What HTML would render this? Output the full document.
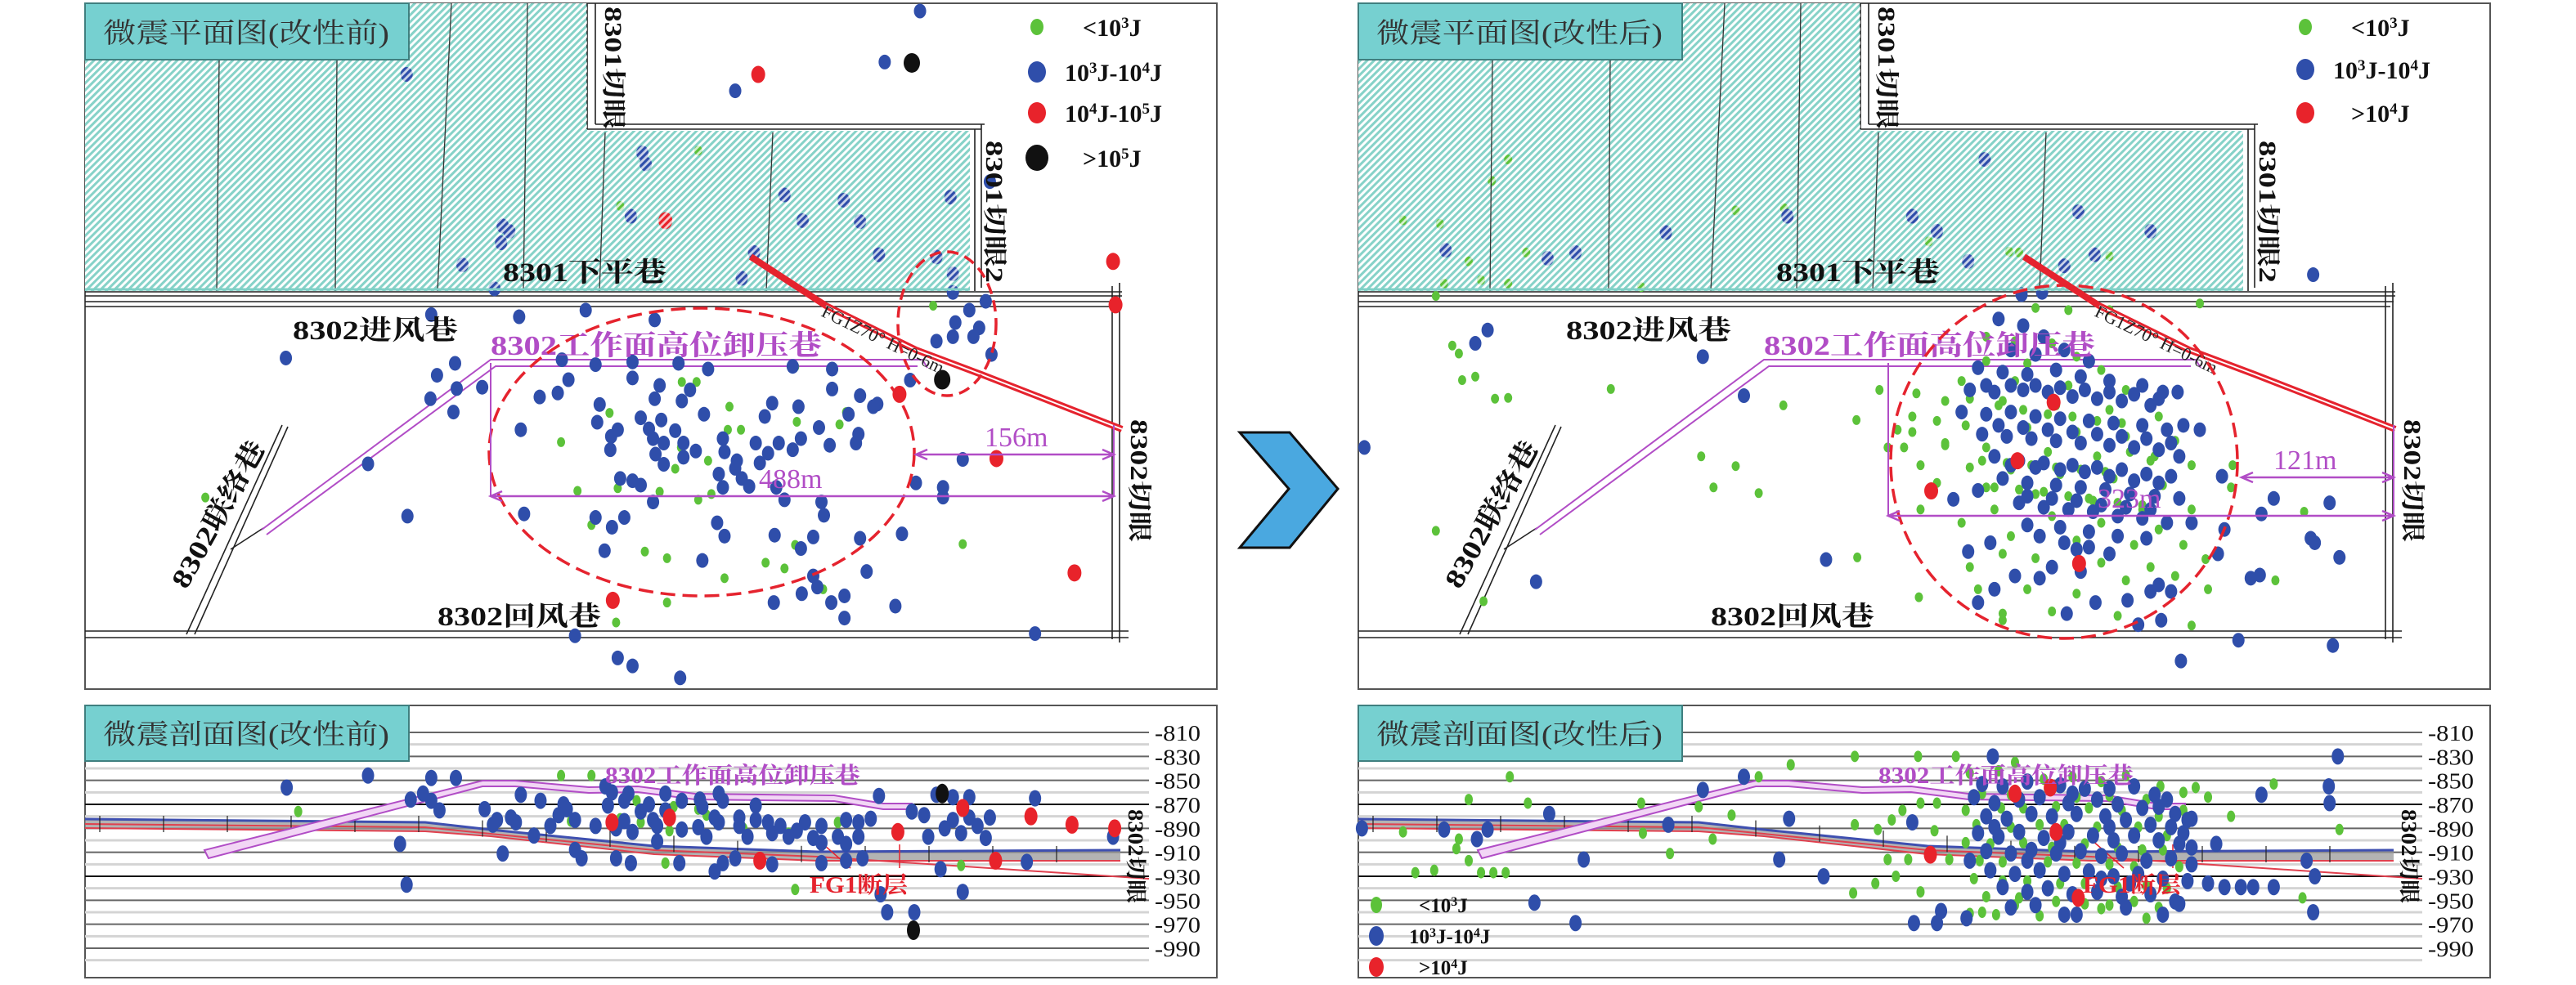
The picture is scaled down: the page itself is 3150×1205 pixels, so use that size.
<!DOCTYPE html>
<html><head><meta charset="utf-8"><style>
html,body{margin:0;padding:0;background:#fff;}
svg{display:block;}
text{font-family:"Liberation Serif","Noto Serif CJK SC",serif;}
</style></head><body>
<svg id="fig" width="3150" height="1205" viewBox="0 0 3150 1205" xmlns="http://www.w3.org/2000/svg">
<defs>
<pattern id="hatch" width="6" height="6" patternUnits="userSpaceOnUse" patternTransform="rotate(45)"><rect width="6" height="6" fill="#fff"/><rect width="3.2" height="6" fill="#86d2c8"/></pattern>
<pattern id="hatchw" width="6" height="6" patternUnits="userSpaceOnUse" patternTransform="rotate(45)"><rect x="3.2" width="2.8" height="6" fill="#fff" fill-opacity="0.75"/></pattern>
</defs>
</svg>
<script>
// ---------------- data (plan view: survey x, survey y units) ----------------
const planBeforeBlueX=[1120,1077,895,495,782,786,955,1027,1157,768,612,620,610,563,977,1047,1070,903,918,1140,1160,1205,602,1160,1200,1180,1163,1192,1185,1160,1140,1207,1108,713,632,525,797,684,725,770,826,862,965,1013,348,554,532,692,770,803,840,657,679,587,556,552,524,1013,1047,1068,1063,797,830,730,780,805,857,940,972,931,1033,727,752,790,822,997,634,744,743,795,808,832,847,880,920,948,975,965,1010,1045,1042,935,882,798,808,832,897,895,925,755,770,780,875,903,880,912,945,955,1000,1115,1148,1148,795,496,448,638,725,760,745,1003,873,882,943,990,975,1047,1098,736,855,1055,990,995,976,1028,1012,942,1090,1028,1172,1260,700,752,770,828];
const planBeforeBlueY=[25,140,205,168,345,370,440,452,445,488,510,522,548,598,498,500,575,628,570,580,618,410,652,660,680,700,728,740,760,760,770,800,858,700,715,710,722,812,823,817,820,833,827,833,808,820,847,857,853,870,880,896,887,874,877,930,900,878,893,912,918,900,905,913,943,948,935,910,918,940,935,953,970,968,972,965,970,985,1015,990,1000,1000,1018,990,1000,1000,990,1015,1005,980,1000,1023,1020,1025,1048,1032,1040,1057,1045,1080,1085,1095,1070,1080,1100,1098,1100,1128,1133,1090,1100,1122,1133,1165,1047,1160,1168,1168,1190,1163,1180,1210,1208,1212,1238,1215,1205,1243,1265,1290,1300,1325,1340,1345,1360,1360,1368,1395,1037,1430,1435,1485,1503,1530];
const planBeforeGreenX=[850,755,888,830,848,742,886,902,1022,1030,970,683,829,822,862,752,803,850,866,703,720,812,785,968,932,955,882,1002,812,750,1172,250,1136,968];
const planBeforeGreenY=[340,465,918,862,862,932,970,970,958,930,952,998,1010,1058,1040,1102,1110,1128,1115,1108,1185,1260,1245,1230,1270,1283,1305,1330,1360,1405,1228,1123,690,828];
const planBeforeRedX=[923,810,1355,1358,1095,1213,1308,746];
const planBeforeRedY=[168,498,590,688,890,1035,1293,1355];
const planBeforeBlackX=[1110,1147];
const planBeforeBlackY=[142,857];

const planAfterBlueX=[1248,243,228,505,93,555,302,655,1183,1172,1245,1250,1280,1268,1200,1185,1157,1272,1087,192,316,350,460,608,760,790,848,962,1050,982,945,828,918,893,1083,1065,1090,1110,1137,1140,1132,1060,1050,1075,1022,983,948,840,828,860,1035,1063,810,840,
865,895,920,880,910,945,975,840,870,900,935,965,1000,1040,830,860,895,925,955,985,1015,1050,820,850,880,910,940,975,1005,1040,1070,845,875,905,935,965,1000,1030,1060,1085,860,890,920,955,985,1015,1045,1075,870,900,935,965,995,1025,1055,1085,890,920,950,980,1010,1040,1070,900,940,975,1010,1045,960,1000,930,885,915,965,855,1100,
850,880,910,940,970,1000,1030,1060,865,895,925,955,985,1015,1045,1075,880,910,940,970,1000,1030,1060,900,930,960,990,1020,1050,915,945,975];
const planAfterBlueY=[620,745,775,805,1010,893,1313,1263,1298,1305,1215,1225,1258,1135,1125,1160,1445,1457,1492,565,583,570,525,488,488,522,360,478,522,575,600,590,660,665,885,885,960,970,1075,1195,1250,1320,1335,1335,1355,1360,1385,1360,1245,1330,1410,1400,1127,1107,
720,735,760,790,800,790,815,830,840,845,835,850,860,870,880,885,880,885,895,900,905,915,930,935,930,940,945,950,955,960,970,980,985,990,995,1000,1005,1010,1015,1030,1030,1040,1045,1050,1055,1060,1070,1075,1080,1090,1095,1100,1105,1115,1120,1125,1135,1145,1150,1155,1165,1170,1180,1185,1190,1200,1210,1215,1240,1250,1280,1300,1305,1290,1225,1180,
870,870,870,875,880,885,890,900,960,965,970,975,980,985,990,1000,1050,1055,1060,1065,1075,1085,1090,1120,1125,1130,1140,1145,1150,1210,1225,1235];
const planAfterGreenX=[200,208,212,228,252,268,393,603,692,720,765,742,760,730,545,503,518,573,180,693,768,238,140,185,268,248,220,235,190,268,290,430,545,604,780,878,890,1000,1110,1117,1100,180,1202,1237,1150,1148,800,770,790,870,
850,885,930,960,900,850,990,820,950,885,1020,800,870,935,1000,1060,790,825,900,960,1020,1080,800,850,925,985,1050,1100,830,880,940,1005,1065,850,910,975,1040,1100,860,930,990,1060,880,960,1030,1090,870,910,990,1050,830,900,960,1020,1080,760,750,770,820,840,930,1010,870,1120,950,910,1000,
830,865,895,925,955,985,1015,845,875,905,935,965,995,1025,1055,860,890,920,950,980,1010,1040];
const planAfterGreenY=[780,798,858,850,900,898,878,915,948,880,888,970,975,1010,1052,1030,1100,1113,1198,1258,1348,1357,497,505,360,408,590,632,640,640,570,648,475,470,545,568,570,578,685,1262,1412,668,1310,1155,1050,1100,1000,1050,1090,1400,
760,770,775,805,820,815,835,860,870,860,880,905,905,915,925,940,950,960,965,975,985,995,1005,1010,1020,1030,1040,1050,1055,1060,1070,1080,1095,1100,1115,1125,1140,1150,1150,1165,1180,1195,1210,1220,1230,1230,1250,1260,1270,1280,1280,1330,1340,1310,1300,940,1010,1150,1180,1330,1380,1390,1385,1330,700,695,700,
900,915,925,935,940,950,955,1040,1045,1050,1055,1060,1065,1020,1030,1100,1105,1110,1120,1130,1135,1150];
const planAfterRedX=[932,888,783,963];
const planAfterRedY=[908,1040,1108,1272];

// ---------------- data (section view: survey x, elevation m) ----------------
const elevTicks=[-810,-830,-850,-870,-890,-910,-930,-950,-970,-990];
const secBeforeBlueX=[448,525,555,349,515,500,525,535,590,634,658,686,690,605,622,628,600,487,612,495,700,708,750,768,737,745,765,760,740,790,810,810,830,852,875,880,855,870,900,920,780,795,760,725,750,770,800,830,850,875,900,920,935,950,970,980,1000,1030,1045,1060,960,990,1000,1020,1030,1070,1110,1125,1140,1160,1180,1160,1180,1205,1150,1170,1190,1130,1200,1260,1355,1045,1250,1145,1050,895,880,870,940,1000,1030,1072,1080,1113,1172,827,940,910,650,670,700,680,860,800];
const secBeforeBlueE=[-846,-848,-848,-856,-861,-866,-867,-875,-874,-862,-867,-870,-874,-883,-881,-885,-887,-903,-911,-937,-908,-915,-915,-919,-855,-860,-861,-867,-871,-870,-861,-875,-867,-866,-861,-867,-872,-881,-881,-871,-876,-883,-884,-888,-890,-893,-888,-891,-889,-885,-888,-883,-885,-888,-892,-885,-888,-883,-885,-882,-897,-898,-902,-897,-903,-863,-876,-879,-862,-864,-864,-883,-881,-881,-890,-894,-888,-897,-898,-865,-897,-897,-918,-924,-915,-915,-919,-926,-920,-919,-917,-945,-960,-960,-943,-919,-894,-897,-896,-888,-883,-879,-897,-901];
const secBeforeGreenX=[363,683,720,775,820,850,695,755,815,905,960,1020,810,968,1170,860,780];
const secBeforeGreenE=[-876,-846,-846,-867,-872,-874,-884,-882,-892,-890,-894,-885,-919,-941,-921,-879,-885];
const secBeforeRedX=[815,745,1093,1172,1255,1305,1357,925,1212];
const secBeforeRedE=[-881,-885,-893,-873,-880,-887,-890,-917,-917];
const secBeforeBlackX=[1147,1112];
const secBeforeBlackE=[-861,-975];

const secAfterBlueX=[1278,555,505,318,243,230,463,610,360,598,652,300,350,762,790,795,826,1267,1268,1185,1250,1248,1240,1130,1100,1160,1175,1200,1140,90,190,760,
858,845,870,900,940,970,1000,1030,1055,1070,835,860,890,915,950,985,1010,1040,1080,1095,850,875,905,930,960,995,1020,1050,1075,1090,840,865,890,920,950,980,1005,1030,1060,1085,850,880,905,935,965,990,1015,1045,1075,1100,855,885,915,945,975,1005,1035,1065,1095,1120,870,900,925,955,985,1015,1050,1080,880,910,945,960,1020,1065,1085,860,1000,940,1060,900,1025,830,955,990,1100];
const secAfterBlueE=[-830,-847,-858,-878,-891,-899,-887,-882,-916,-916,-930,-952,-969,-969,-969,-959,-965,-855,-869,-862,-930,-960,-917,-903,-882,-939,-939,-939,-939,-890,-891,-885,
-830,-853,-855,-851,-854,-857,-857,-855,-862,-866,-864,-869,-866,-864,-869,-866,-870,-873,-878,-883,-880,-882,-878,-880,-878,-880,-883,-887,-889,-894,-894,-897,-893,-898,-893,-896,-900,-896,-900,-903,-909,-911,-908,-911,-909,-913,-911,-917,-915,-920,-925,-928,-925,-928,-926,-930,-928,-932,-934,-936,-939,-943,-940,-945,-943,-947,-945,-951,-956,-954,-962,-962,-956,-962,-953,-889,-889,-902,-872,-917,-936,-917,-861,-932,-906];
const secAfterGreenX=[270,220,292,430,500,540,517,465,432,208,205,220,155,178,235,250,265,140,690,767,813,612,573,690,718,735,748,787,730,755,740,715,688,770,805,770,790,1280,1200,1148,1235,1120,1090,1105,1062,830,845,862,885,990,
830,865,885,920,955,990,1020,845,880,925,960,1000,1045,825,868,895,935,975,1015,1060,1090,838,880,915,945,985,1035,1070,825,855,895,930,970,1010,1040,1065,842,870,925,960,1000,1030,1085,835,870,900,940,970,1010,1045,1070,850,890,935,970,1000,1030,1060,915,1045];
const secAfterGreenE=[-847,-866,-869,-869,-872,-879,-899,-911,-894,-899,-907,-917,-927,-925,-927,-927,-927,-893,-830,-830,-830,-837,-847,-887,-891,-883,-875,-892,-916,-916,-930,-936,-944,-943,-916,-869,-869,-891,-853,-880,-948,-864,-860,-856,-855,-961,-960,-962,-954,-957,
-844,-842,-835,-849,-847,-851,-846,-861,-862,-857,-864,-863,-866,-875,-873,-873,-872,-873,-875,-880,-875,-887,-889,-887,-887,-889,-889,-896,-902,-903,-902,-906,-903,-906,-908,-908,-917,-918,-918,-919,-920,-922,-922,-932,-934,-934,-936,-936,-939,-938,-940,-947,-948,-951,-953,-954,-951,-956,-963,-965];
const secAfterRedX=[885,928,935,962,782];
const secAfterRedE=[-861,-856,-893,-948,-912];

// ---------------- helpers ----------------
const NS='http://www.w3.org/2000/svg';
const svg=document.getElementById('fig');
function el(tag,attrs,parent){const e=document.createElementNS(NS,tag);for(const k in attrs)e.setAttribute(k,attrs[k]);(parent||svg).appendChild(e);return e;}
function txt(str,attrs,parent){const e=el('text',attrs,parent);e.textContent=str;return e;}
const COL={blue:'#2f4eaa',green:'#5cc23a',red:'#e8232b',black:'#111111',purple:'#b14dc6'};

// axis functions
const planY=v=>v/1.845;
const planXL=v=>v*1.0045;
const planXR=v=>1575+v*1.0045;
const secXL=v=>v*1.0045;
const secXR=v=>1575+v*1.0045;
const secY=e=>896+(-810-e)*1.4667;

function dots(xs,ys,fx,fy,color,rx,ry,name,parent){
  for(let i=0;i<xs.length;i++){
    const c=el('ellipse',{cx:fx(xs[i]),cy:fy(ys[i]),rx:rx,ry:ry,fill:color},parent);
    
    
  }
}

// ---------------- plan static map (below events) ----------------
function planStatic(dx,variant){
  const g=el('g',{transform:'translate('+dx+',0)'});
  
  
  const frame=el('rect',{x:104,y:4,width:1384,height:839,fill:'#fff',stroke:'#555','stroke-width':2},g);
  
  
  const h=el('polygon',{points:'104,4 718,4 718,160 1186,160 1186,356 104,356',fill:'url(#hatch)'},g);
  
  
  const walls=[
    'M718,4 L718,158','M728,4 L728,152','M718,158 L1200,158','M728,152 L1204,152',
    'M1192,158 L1192,356','M1200,152 L1200,352',
    'M104,357 L1372,357','M104,362 L1372,362','M104,369 L1370,369','M104,375 L1366,375',
    'M1360,350 L1360,782','M1369,346 L1369,786',
    'M104,772 L1380,772','M104,780 L1380,780',
    'M228,776 L345,520','M238,776 L352,522','M282,672 L322,646'
  ];
  walls.forEach(d=>{const e=el('path',{d:d,stroke:'#222','stroke-width':1.6,fill:'none'},g);});
  const pr=el('path',{d:'M320,648 L600,440 L1128,440 L1134,450 M326,654 L606,448 L1122,448',stroke:COL.purple,'stroke-width':2,fill:'none'},g);
  
  return g;
}

function planOverlay(dx){
  const o=el('polygon',{points:'104,73 718,73 718,160 1186,160 1186,356 104,356',fill:'url(#hatchw)',transform:'translate('+dx+',0)'});
  
  const o2=el('polygon',{points:'500,4 718,4 718,73 500,73',fill:'url(#hatchw)',transform:'translate('+dx+',0)'});
  
}

// ---------------- plan top layer (above events) ----------------
function planTop(dx,title,variant){
  const g=el('g',{transform:'translate('+dx+',0)'});
  
  
  const lines=[[268,73,265,356],[412,73,410,356],[552,4,535,356],[645,4,640,356],[740,162,733,356],[945,162,937,356]];
  lines.forEach(l=>{const e=el('line',{x1:l[0],y1:l[1],x2:l[2],y2:l[3],stroke:'#333','stroke-width':1.3},g);});
  const tl=el('line',{x1:104,y1:354,x2:1186,y2:354,stroke:'#7fd0c6','stroke-width':3},g);
  
  const fp='M918,314 L1010,374 L1120,428 L1200,458 L1290,493 L1372,525';
  const f1=el('path',{d:fp,stroke:'#e5232e','stroke-width':8,fill:'none'},g);
  
  const f2=el('path',{d:'M1010,374 L1120,428 L1200,458 L1290,493 L1372,525',stroke:'#fff','stroke-width':2,fill:'none'},g);
  
  const ts={fill:'#111','font-size':33,'font-weight':'bold'};
  let t;
  t=txt('8301下平巷',Object.assign({x:615,y:344,textLength:200,lengthAdjust:'spacingAndGlyphs'},ts),g);
  t=txt('8302进风巷',Object.assign({x:358,y:415,textLength:202,lengthAdjust:'spacingAndGlyphs'},ts),g);
  t=txt('8302回风巷',Object.assign({x:535,y:765,textLength:200,lengthAdjust:'spacingAndGlyphs'},ts),g);
  t=txt('8302工作面高位卸压巷',{x:600,y:434,'font-size':34,'font-weight':'bold',fill:COL.purple,textLength:405,lengthAdjust:'spacingAndGlyphs'},g);
  t=txt('FG1Z70° H=0-6m',{x:0,y:0,'font-size':22,fill:'#222',transform:'translate(1003,386) rotate(26)'},g);
  t=txt('8302联络巷',{x:0,y:0,'font-size':33,'font-weight':'bold',fill:'#111',textLength:200,lengthAdjust:'spacingAndGlyphs',transform:'translate(228,722) rotate(-61)'},g);
  const vt=[['8301切眼',740,8,150],['8301切眼2',1206,172,174],['8302切眼',1383,513,150]];
  vt.forEach(v=>{const e=txt(v[0],{x:0,y:0,'font-size':30,'font-weight':'bold',fill:'#111',textLength:v[3],lengthAdjust:'spacingAndGlyphs',transform:'translate('+v[1]+','+v[2]+') rotate(90)'},g);});
  const tb=el('rect',{x:104,y:4,width:396,height:69,fill:'#76d0d0',stroke:'#3f7f7f','stroke-width':2},g);
  
  t=txt(title,{x:126,y:52,'font-size':34,fill:'#333','font-family':'"Noto Serif CJK SC",serif',textLength:350,lengthAdjust:'spacingAndGlyphs'},g);
}

function measure(x1,x2,y,label,lx,g){
  const l=el('path',{d:'M'+x1+','+y+' L'+x2+','+y+' M'+(x1+14)+','+(y-6)+' L'+x1+','+y+' L'+(x1+14)+','+(y+6)+' M'+(x2-14)+','+(y-6)+' L'+x2+','+y+' L'+(x2-14)+','+(y+6),stroke:COL.purple,'stroke-width':2.5,fill:'none'},g);
  
  const t=txt(label,{x:lx,y:y-10,'font-size':34,fill:COL.purple},g);
  
}

function richText(t,parts,supSize){
  parts.forEach(p=>{
    const s=el('tspan',p[1]?{'baseline-shift':'super','font-size':supSize}:{},t);
    s.textContent=p[0];
  });
}
const legSmall=[['<10',0],['3',1],['J',0]];
const legMed=[['10',0],['3',1],['J-10',0],['4',1],['J',0]];
const legLargeB=[['10',0],['4',1],['J-10',0],['5',1],['J',0]];
const legHugeB=[['>10',0],['5',1],['J',0]];
const legLargeA=[['>10',0],['4',1],['J',0]];

function legendPlan(x,items,g){
  items.forEach(it=>{
    const c=el('ellipse',{cx:x,cy:it[2],rx:it[3],ry:it[3]+2,fill:it[0]},g);
    
    const t=el('text',{x:x+it[4],y:it[2]+11,'font-size':30,'font-weight':'bold',fill:'#111'},g);
    
    richText(t,it[1],19);
  });
}

// ================= LEFT PLAN =================
planStatic(0,'before');
const dL=el('g',{});
dots(planBeforeGreenX,planBeforeGreenY,planXL,planY,COL.green,5,6,'event-small',dL);
dots(planBeforeBlueX,planBeforeBlueY,planXL,planY,COL.blue,7.5,9,'event-medium',dL);
dots(planBeforeRedX,planBeforeRedY,planXL,planY,COL.red,8.5,10.5,'event-large',dL);
dots(planBeforeBlackX,planBeforeBlackY,planXL,planY,COL.black,10,12,'event-very-large',dL);
planOverlay(0);
planTop(0,'微震平面图(改性前)','before');
const aL=el('g',{});
let e1=el('ellipse',{cx:858,cy:553,rx:260,ry:176,fill:'none',stroke:'#e5232e','stroke-width':3.5,'stroke-dasharray':'18 9'},aL);

let e2=el('ellipse',{cx:1158,cy:396,rx:60,ry:88,fill:'none',stroke:'#e5232e','stroke-width':3.5,'stroke-dasharray':'14 8'},aL);

let vl=el('path',{d:'M600,444 L600,607 M1362,520 L1362,607',stroke:COL.purple,'stroke-width':2,fill:'none'},aL);

measure(600,1362,607,'488m',928,aL);
measure(1120,1362,556,'156m',1204,aL);
legendPlan(1268,[[COL.green,legSmall,33,8,56],[COL.blue,legMed,88,11,34],[COL.red,legLargeB,138,11,34],[COL.black,legHugeB,193,14,56]],aL);

// ================= RIGHT PLAN =================
planStatic(1557,'after');
const dR=el('g',{});
dots(planAfterGreenX,planAfterGreenY,planXR,planY,COL.green,5,6,'event-small',dR);
dots(planAfterBlueX,planAfterBlueY,planXR,planY,COL.blue,7.5,9,'event-medium',dR);
dots(planAfterRedX,planAfterRedY,planXR,planY,COL.red,8.5,10.5,'event-large',dR);
planOverlay(1557);
planTop(1557,'微震平面图(改性后)','after');
const aR=el('g',{});
let e3=el('ellipse',{cx:2524,cy:565,rx:212,ry:216,fill:'none',stroke:'#e5232e','stroke-width':3.5,'stroke-dasharray':'18 9'},aR);

let vr=el('path',{d:'M2309,444 L2309,631 M2927,520 L2927,631',stroke:COL.purple,'stroke-width':2,fill:'none'},aR);

measure(2309,2927,631,'323m',2565,aR);
measure(2741,2927,584,'121m',2780,aR);
legendPlan(2819,[[COL.green,legSmall,33,8,56],[COL.blue,legMed,85,11,34],[COL.red,legLargeA,138,11,56]],aR);

// arrow
const arrow=el('polygon',{points:'1516,529 1577,529 1636,598 1577,670 1516,670 1576,598',fill:'#4aa8e0',stroke:'#111','stroke-width':3});


// ---------------- section static ----------------
function sectionStatic(dx,title,variant){
  const g=el('g',{transform:'translate('+dx+',0)'});
  
  
  const fr=el('rect',{x:104,y:863,width:1384,height:333,fill:'#fff',stroke:'#555','stroke-width':2},g);
  
  for(let i=0;i<elevTicks.length;i++){
    const y=secY(elevTicks[i]-10);
    const l=el('line',{x1:104,x2:1405,y1:y,y2:y,stroke:'#d4d4d4','stroke-width':3},g);
    
  }
  elevTicks.forEach(v=>{
    const y=secY(v);
    const l=el('line',{x1:104,x2:1405,y1:y,y2:y,stroke:(v===-870||v===-930)?'#111':'#666','stroke-width':2},g);
    
    const t=txt(String(v),{x:1412,y:y+10,'font-size':27,fill:'#111',textLength:56,lengthAdjust:'spacingAndGlyphs'},g);
    
  });
  const band=el('polygon',{points:'104,1002 520,1006 600,1015 800,1035 1000,1042 1370,1040 1370,1053 1000,1053 800,1045 600,1023 520,1017 104,1013',fill:'#9a9a9a','fill-opacity':0.75},g);
  
  const bt=el('path',{d:'M104,1002 L520,1006 L600,1015 L800,1035 L1000,1042 L1370,1040',stroke:'#3e4fb0','stroke-width':3,fill:'none'},g);
  
  const bb=el('path',{d:'M104,1013 L520,1017 L600,1023 L800,1045 L1000,1053 L1370,1053 M104,1008 L520,1012 L600,1020 L800,1040 L1000,1048 L1405,1075',stroke:'#e0404e','stroke-width':2,fill:'none'},g);
  
  for(let x=122;x<1370;x+=78){
    const off=x<520?0:Math.min(37,(x-520)*0.08);
    const k=el('line',{x1:x,x2:x,y1:998+off,y2:1018+off,stroke:'#222','stroke-width':1.2},g);
    
  }
  const pr=el('polygon',{points:'250,1040 590,955 630,955 720,963 780,962 850,971 1020,973 1080,983 1115,983 1115,990 1080,990 1020,980 850,978 780,969 720,970 630,962 590,962 255,1050',fill:'#f2d6f5',stroke:COL.purple,'stroke-width':2},g);
  
  const fl=el('path',{d:'M1000,1027 L1040,1062 M1100,1033 L1100,1062',stroke:'#e5232e','stroke-width':1.5,fill:'none'},g);
  
  let t=txt('8302切眼',{x:0,y:0,'font-size':26,'font-weight':'bold',fill:'#111',textLength:115,lengthAdjust:'spacingAndGlyphs',transform:'translate(1380,990) rotate(90)'},g);
  
  const tb=el('rect',{x:104,y:863,width:396,height:68,fill:'#76d0d0',stroke:'#3f7f7f','stroke-width':2},g);
  
  t=txt(title,{x:126,y:910,'font-size':34,fill:'#333','font-family':'"Noto Serif CJK SC",serif',textLength:350,lengthAdjust:'spacingAndGlyphs'},g);
  
}
function sectionLabels(dx,variant){
  const g=el('g',{transform:'translate('+dx+',0)'});
  
  
  let t=txt('8302工作面高位卸压巷',{x:740,y:958,'font-size':28,'font-weight':'bold',fill:COL.purple,textLength:312,lengthAdjust:'spacingAndGlyphs'},g);
  
  t=txt('FG1断层',{x:990,y:1092,'font-size':28,'font-weight':'bold',fill:'#e5232e',textLength:120,lengthAdjust:'spacingAndGlyphs'},g);
  
}

sectionStatic(0,'微震剖面图(改性前)','before');
const sL=el('g',{});
dots(secBeforeGreenX,secBeforeGreenE,secXL,secY,COL.green,5,7,'event-small',sL);
dots(secBeforeBlueX,secBeforeBlueE,secXL,secY,COL.blue,7.5,10,'event-medium',sL);
dots(secBeforeRedX,secBeforeRedE,secXL,secY,COL.red,8,11,'event-large',sL);
dots(secBeforeBlackX,secBeforeBlackE,secXL,secY,COL.black,8,12,'event-very-large',sL);
sectionLabels(0,'before');

sectionStatic(1557,'微震剖面图(改性后)','after');
const sR=el('g',{});
dots(secAfterGreenX,secAfterGreenE,secXR,secY,COL.green,5,7,'event-small',sR);
dots(secAfterBlueX,secAfterBlueE,secXR,secY,COL.blue,7.5,10,'event-medium',sR);
dots(secAfterRedX,secAfterRedE,secXR,secY,COL.red,8,11,'event-large',sR);
sectionLabels(1557,'after');

// section legend (after)
const lg=el('g',{});
[[COL.green,legSmall,1107,7,52],[COL.blue,legMed,1145,9,40],[COL.red,legLargeA,1183,9,52]].forEach(it=>{
  const c=el('ellipse',{cx:1683,cy:it[2],rx:it[3],ry:it[3]+3,fill:it[0]},lg);
  
  const t=el('text',{x:1683+it[4],y:it[2]+9,'font-size':25,'font-weight':'bold',fill:'#111'},lg);
  
  richText(t,it[1],16);
});
</script>
</body></html>
